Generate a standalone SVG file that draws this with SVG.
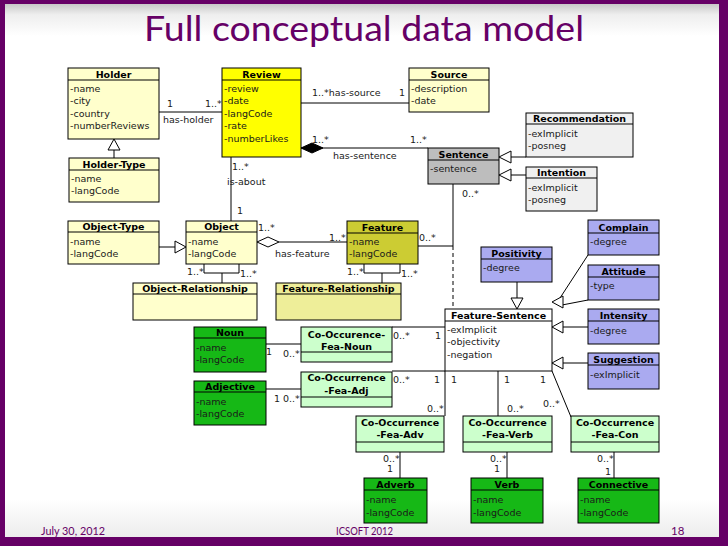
<svg xmlns="http://www.w3.org/2000/svg" width="728" height="546" viewBox="0 0 728 546">
<defs>
<linearGradient id="bg" x1="0" y1="0" x2="0" y2="1">
<stop offset="0" stop-color="#c8c8c8"/>
<stop offset="0.02" stop-color="#eeeeee"/>
<stop offset="0.06" stop-color="#ffffff"/>
<stop offset="0.93" stop-color="#ffffff"/>
<stop offset="1" stop-color="#ececec"/>
</linearGradient>
<style>
.bx{stroke:#000;stroke-width:1}
.ln{stroke:#000;stroke-width:1;fill:none}
.t{font-family:"DejaVu Sans",sans-serif;font-size:9.5px;fill:#1a1a1a}
.h{font-weight:bold;text-anchor:middle;fill:#000}
.ly{fill:#FFFFCC}.yy{fill:#FFFF00}.ol{fill:#CCCC33}.lo{fill:#EEEE99}
.gr{fill:#BDBDBD}.lg{fill:#F0F0F0}.lv{fill:#AAAAF0}.wh{fill:#FFFFFF}
.lgn{fill:#CCFFCC}.gn{fill:#16B816}
.tri{fill:#fff;stroke:#000;stroke-width:1}
.ft{font-family:Lato,"Open Sans",sans-serif;font-size:11.5px;fill:#660066}
</style>
</defs>
<rect x="0" y="0" width="728" height="546" fill="#660066"/>
<rect x="5" y="4" width="714" height="533" fill="url(#bg)"/>
<text x="364" y="41" font-family="Lato, 'Open Sans', sans-serif" font-size="34" fill="#660066" text-anchor="middle" textLength="440" lengthAdjust="spacingAndGlyphs">Full conceptual data model</text>

<g id="connectors">
<line class="ln" x1="159" y1="112" x2="222" y2="112"/>
<line class="ln" x1="301" y1="103" x2="409" y2="103"/>
<line class="ln" x1="301" y1="148" x2="428" y2="148"/>
<polygon points="301,148 312,143 323,148 312,153" fill="#000" stroke="#000"/>
<line class="ln" x1="231" y1="157" x2="231" y2="221"/>
<line class="ln" x1="114" y1="158" x2="114" y2="150"/>
<polygon class="tri" points="114,139 108,150 120,150"/>
<line class="ln" x1="159" y1="247" x2="175" y2="247"/>
<polygon class="tri" points="186,247 175,241 175,253"/>
<line class="ln" x1="279" y1="242" x2="347" y2="242"/>
<polygon class="tri" points="257,242 268,237 279,242 268,247"/>
<polyline class="ln" points="204,264 204,273 239,273 239,264"/>
<line class="ln" x1="222" y1="273" x2="222" y2="283"/>
<polyline class="ln" points="364,264 364,273 400,273 400,264"/>
<line class="ln" x1="382" y1="273" x2="382" y2="283"/>
<polyline class="ln" points="418,246 453,246 453,184"/>
<line class="ln" x1="453" y1="246" x2="453" y2="309" stroke-dasharray="4,3"/>
<line class="ln" x1="526" y1="157" x2="511" y2="157"/>
<polygon class="tri" points="499,157 511,151 511,163"/>
<line class="ln" x1="526" y1="175" x2="511" y2="175"/>
<polygon class="tri" points="499,175 511,169 511,181"/>
<line class="ln" x1="517" y1="282" x2="517" y2="298"/>
<polygon class="tri" points="517,309 511,298 523,298"/>
<line class="ln" x1="560" y1="298" x2="588" y2="255"/>
<line class="ln" x1="562" y1="305" x2="588" y2="300"/>
<polygon class="tri" points="552,302 563,296 563,308"/>
<line class="ln" x1="588" y1="327" x2="563" y2="327"/>
<polygon class="tri" points="552,327 563,321 563,333"/>
<line class="ln" x1="588" y1="363" x2="563" y2="363"/>
<polygon class="tri" points="552,363 563,357 563,369"/>
<line class="ln" x1="266" y1="344" x2="301" y2="344"/>
<line class="ln" x1="392" y1="327" x2="445" y2="327"/>
<line class="ln" x1="266" y1="389" x2="301" y2="389"/>
<line class="ln" x1="392" y1="371" x2="445" y2="371"/>
<line class="ln" x1="445" y1="371" x2="445" y2="416"/>
<line class="ln" x1="498" y1="371" x2="498" y2="416"/>
<line class="ln" x1="552" y1="371" x2="571" y2="417"/>
<line class="ln" x1="400" y1="452" x2="400" y2="478"/>
<line class="ln" x1="507" y1="452" x2="507" y2="478"/>
<line class="ln" x1="614" y1="452" x2="614" y2="478"/>
<g class="t">
<text x="167" y="106.5">1</text>
<text x="205" y="106.5">1..*</text>
<text x="163" y="122.5">has-holder</text>
<text x="312" y="95.5">1..*has-source</text>
<text x="399" y="95.5">1</text>
<text x="312" y="142.5">1..*</text>
<text x="410" y="142.5">1..*</text>
<text x="333" y="158.5">has-sentence</text>
<text x="232" y="169.5">1..*</text>
<text x="227" y="184.5">is-about</text>
<text x="237" y="213.5">1</text>
<text x="462" y="196.5">0..*</text>
<text x="258" y="230.5">1..*</text>
<text x="329" y="240.5">1..*</text>
<text x="275" y="256.5">has-feature</text>
<text x="419" y="240.5">0..*</text>
<text x="187" y="274.5">1..*</text>
<text x="240" y="276.5">1..*</text>
<text x="347" y="274.5">1..*</text>
<text x="401" y="276.5">1..*</text>
<text x="266" y="354.5">1</text>
<text x="283" y="356.5">0..*</text>
<text x="393" y="338.5">0..*</text>
<text x="435" y="338.5">1</text>
<text x="274" y="401.5">1</text>
<text x="283" y="401.5">0..*</text>
<text x="393" y="382.5">0..*</text>
<text x="434" y="382.5">1</text>
<text x="451" y="382.5">1</text>
<text x="504" y="382.5">1</text>
<text x="540" y="382.5">1</text>
<text x="427" y="411.5">0..*</text>
<text x="507" y="411.5">0..*</text>
<text x="543" y="406.5">0..*</text>
<text x="383" y="462">0..*</text>
<text x="387" y="471.5">1</text>
<text x="490" y="462">0..*</text>
<text x="494" y="471.5">1</text>
<text x="597" y="462">0..*</text>
<text x="605" y="475">1</text>
</g>
</g>

<g id="holder" class="t">
<rect class="bx ly" x="68" y="68" width="91" height="71"/>
<line class="ln" x1="68" y1="80" x2="159" y2="80"/>
<text class="h" x="113.5" y="77.5">Holder</text>
<text x="70" y="91.5">-name</text><text x="70" y="104">-city</text><text x="70" y="116.5">-country</text><text x="70" y="129">-numberReviews</text>
</g>
<g id="review" class="t">
<rect class="bx yy" x="222" y="68" width="79" height="89"/>
<line class="ln" x1="222" y1="80" x2="301" y2="80"/>
<text class="h" x="261.5" y="77.5">Review</text>
<text x="224" y="91.5">-review</text><text x="224" y="104">-date</text><text x="224" y="116.5">-langCode</text><text x="224" y="129">-rate</text><text x="224" y="141.5">-numberLikes</text>
</g>
<g id="source" class="t">
<rect class="bx ly" x="409" y="68" width="80" height="44"/>
<line class="ln" x1="409" y1="80" x2="489" y2="80"/>
<text class="h" x="449" y="77.5">Source</text>
<text x="411" y="91.5">-description</text><text x="411" y="104">-date</text>
</g>
<g id="holder-type" class="t">
<rect class="bx ly" x="69" y="158" width="90" height="44"/>
<line class="ln" x1="69" y1="170" x2="159" y2="170"/>
<text class="h" x="114" y="167.5">Holder-Type</text>
<text x="71" y="181.5">-name</text><text x="71" y="194">-langCode</text>
</g>
<g id="sentence" class="t">
<rect class="bx gr" x="428" y="148" width="71" height="36"/>
<line class="ln" x1="428" y1="160" x2="499" y2="160"/>
<text class="h" x="463.5" y="157.5">Sentence</text>
<text x="430" y="171.5">-sentence</text>
</g>
<g id="recommendation" class="t">
<rect class="bx lg" x="526" y="113" width="107" height="44"/>
<line class="ln" x1="526" y1="124" x2="633" y2="124"/>
<text class="h" x="579.5" y="121.5">Recommendation</text>
<text x="528" y="136.5">-exImplicit</text><text x="528" y="149">-posneg</text>
</g>
<g id="intention" class="t">
<rect class="bx lg" x="526" y="167" width="71" height="44"/>
<line class="ln" x1="526" y1="178" x2="597" y2="178"/>
<text class="h" x="561.5" y="176">Intention</text>
<text x="528" y="190.5">-exImplicit</text><text x="528" y="203">-posneg</text>
</g>
<g id="object-type" class="t">
<rect class="bx ly" x="68" y="221" width="91" height="43"/>
<line class="ln" x1="68" y1="232" x2="159" y2="232"/>
<text class="h" x="113.5" y="230">Object-Type</text>
<text x="70" y="244.5">-name</text><text x="70" y="257">-langCode</text>
</g>
<g id="object" class="t">
<rect class="bx ly" x="186" y="221" width="71" height="43"/>
<line class="ln" x1="186" y1="232" x2="257" y2="232"/>
<text class="h" x="221.5" y="230">Object</text>
<text x="188" y="244.5">-name</text><text x="188" y="257">-langCode</text>
</g>
<g id="feature" class="t">
<rect class="bx ol" x="347" y="221" width="71" height="43"/>
<line class="ln" x1="347" y1="233" x2="418" y2="233"/>
<text class="h" x="382.5" y="230.5">Feature</text>
<text x="349" y="244.5">-name</text><text x="349" y="257">-langCode</text>
</g>
<g id="object-relationship" class="t">
<rect class="bx ly" x="133" y="283" width="124" height="37"/>
<line class="ln" x1="133" y1="294" x2="257" y2="294"/>
<text class="h" x="195" y="292">Object-Relationship</text>
</g>
<g id="feature-relationship" class="t">
<rect class="bx lo" x="276" y="283" width="125" height="37"/>
<line class="ln" x1="276" y1="294" x2="401" y2="294"/>
<text class="h" x="338.5" y="292">Feature-Relationship</text>
</g>
<g id="complain" class="t">
<rect class="bx lv" x="588" y="220" width="71" height="35"/>
<line class="ln" x1="588" y1="233" x2="659" y2="233"/>
<text class="h" x="623.5" y="230.5">Complain</text>
<text x="590" y="244.5">-degree</text>
</g>
<g id="attitude" class="t">
<rect class="bx lv" x="588" y="265" width="71" height="35"/>
<line class="ln" x1="588" y1="277" x2="659" y2="277"/>
<text class="h" x="623.5" y="274.5">Attitude</text>
<text x="590" y="288.5">-type</text>
</g>
<g id="positivity" class="t">
<rect class="bx lv" x="481" y="247" width="71" height="35"/>
<line class="ln" x1="481" y1="259" x2="552" y2="259"/>
<text class="h" x="516.5" y="256.5">Positivity</text>
<text x="483" y="270.5">-degree</text>
</g>
<g id="intensity" class="t">
<rect class="bx lv" x="588" y="309" width="71" height="35"/>
<line class="ln" x1="588" y1="321" x2="659" y2="321"/>
<text class="h" x="623.5" y="318.5">Intensity</text>
<text x="590" y="333.5">-degree</text>
</g>
<g id="suggestion" class="t">
<rect class="bx lv" x="588" y="353" width="71" height="36"/>
<line class="ln" x1="588" y1="365" x2="659" y2="365"/>
<text class="h" x="623.5" y="362.5">Suggestion</text>
<text x="590" y="377.5">-exImplicit</text>
</g>
<g id="feature-sentence" class="t">
<rect class="bx wh" x="445" y="309" width="107" height="62"/>
<line class="ln" x1="445" y1="321" x2="552" y2="321"/>
<text class="h" x="498.5" y="318.5">Feature-Sentence</text>
<text x="447" y="332.5">-exImplicit</text><text x="447" y="345">-objectivity</text><text x="447" y="357.5">-negation</text>
</g>
<g id="noun" class="t">
<rect class="bx gn" x="194" y="327" width="72" height="45"/>
<line class="ln" x1="194" y1="338" x2="266" y2="338"/>
<text class="h" x="230" y="335.5">Noun</text>
<text x="196" y="350.5">-name</text><text x="196" y="363">-langCode</text>
</g>
<g id="adjective" class="t">
<rect class="bx gn" x="194" y="381" width="72" height="44"/>
<line class="ln" x1="194" y1="392" x2="266" y2="392"/>
<text class="h" x="230" y="389.5">Adjective</text>
<text x="196" y="404.5">-name</text><text x="196" y="417">-langCode</text>
</g>
<g id="co-fea-noun" class="t">
<rect class="bx lgn" x="301" y="327" width="91" height="35"/>
<line class="ln" x1="301" y1="352" x2="392" y2="352"/>
<text class="h" x="346.5" y="337.5">Co-Occurence-</text>
<text class="h" x="346.5" y="349.5">Fea-Noun</text>
</g>
<g id="co-fea-adj" class="t">
<rect class="bx lgn" x="301" y="372" width="91" height="35"/>
<line class="ln" x1="301" y1="397" x2="392" y2="397"/>
<text class="h" x="346.5" y="381">Co-Occurrence</text>
<text class="h" x="346.5" y="393.5">-Fea-Adj</text>
</g>
<g id="co-fea-adv" class="t">
<rect class="bx lgn" x="356" y="416" width="88" height="36"/>
<line class="ln" x1="356" y1="442" x2="444" y2="442"/>
<text class="h" x="400" y="425.5">Co-Occurrence</text>
<text class="h" x="400" y="438">-Fea-Adv</text>
</g>
<g id="co-fea-verb" class="t">
<rect class="bx lgn" x="463" y="416" width="89" height="36"/>
<line class="ln" x1="463" y1="442" x2="552" y2="442"/>
<text class="h" x="507.5" y="425.5">Co-Occurrence</text>
<text class="h" x="507.5" y="438">-Fea-Verb</text>
</g>
<g id="co-fea-con" class="t">
<rect class="bx lgn" x="571" y="416" width="88" height="36"/>
<line class="ln" x1="571" y1="442" x2="659" y2="442"/>
<text class="h" x="615" y="425.5">Co-Occurrence</text>
<text class="h" x="615" y="438">-Fea-Con</text>
</g>
<g id="adverb" class="t">
<rect class="bx gn" x="364" y="478" width="63" height="45"/>
<line class="ln" x1="364" y1="490" x2="427" y2="490"/>
<text class="h" x="395.5" y="487.5">Adverb</text>
<text x="366" y="502.5">-name</text><text x="366" y="515.5">-langCode</text>
</g>
<g id="verb" class="t">
<rect class="bx gn" x="471" y="478" width="72" height="45"/>
<line class="ln" x1="471" y1="490" x2="543" y2="490"/>
<text class="h" x="507" y="487.5">Verb</text>
<text x="473" y="502.5">-name</text><text x="473" y="515.5">-langCode</text>
</g>
<g id="connective" class="t">
<rect class="bx gn" x="578" y="478" width="81" height="45"/>
<line class="ln" x1="578" y1="490" x2="659" y2="490"/>
<text class="h" x="618.5" y="487.5">Connective</text>
<text x="580" y="502.5">-name</text><text x="580" y="515.5">-langCode</text>
</g>

<text class="ft" x="41" y="535" textLength="64" lengthAdjust="spacingAndGlyphs">July 30, 2012</text>
<text class="ft" x="336" y="535" textLength="57" lengthAdjust="spacingAndGlyphs">ICSOFT 2012</text>
<text class="ft" x="671" y="535">18</text>
</svg>
